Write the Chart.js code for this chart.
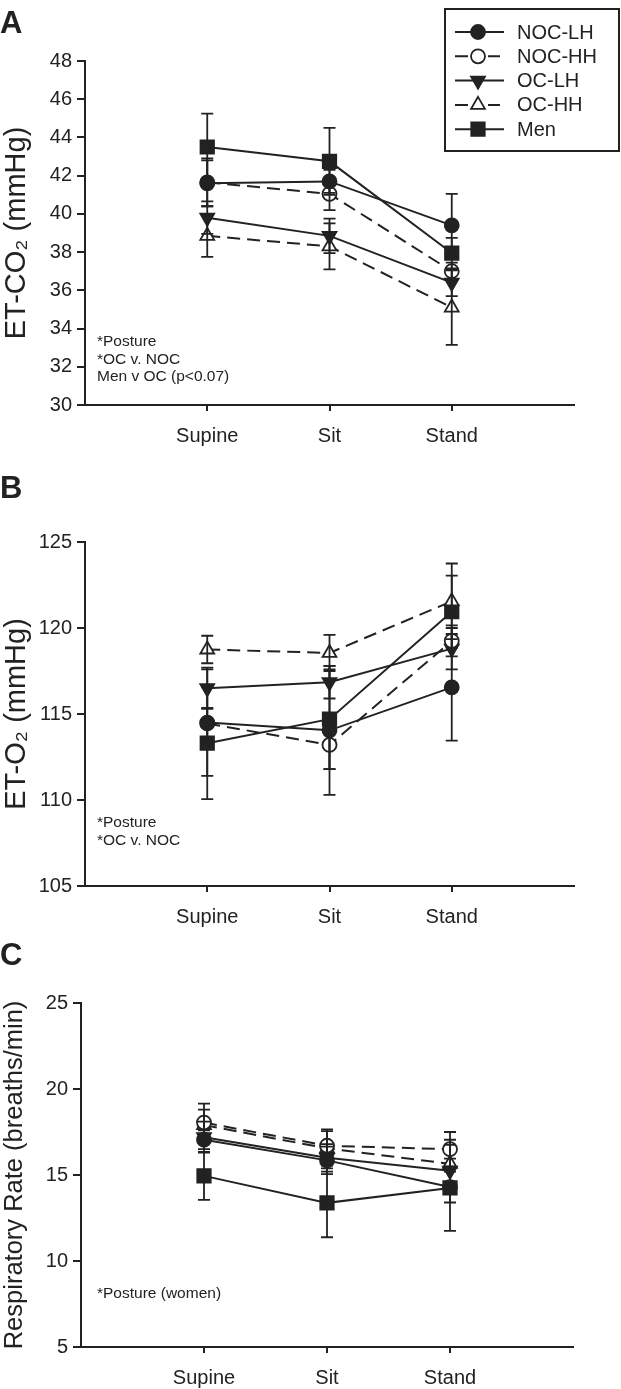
<!DOCTYPE html>
<html><head><meta charset="utf-8">
<script src="https://cdn.jsdelivr.net/npm/chart.js@4.4.1/dist/chart.umd.min.js"></script>
<style>
html,body{margin:0;padding:0;background:#fff;}
body{width:621px;height:1389px;position:relative;overflow:hidden;font-family:"Liberation Sans",Arial,sans-serif;color:#222;}
.panel{position:absolute;left:0;width:621px;}
.letter{position:absolute;left:0;font-weight:bold;font-size:31px;line-height:31px;}
.note{position:absolute;left:97px;font-size:15.5px;line-height:17.5px;white-space:nowrap;}
canvas{display:block;}
</style></head><body>
<div class="panel" style="top:0;height:460px"><canvas id="cA" width="621" height="460"></canvas></div>
<div class="panel" style="top:460px;height:470px"><canvas id="cB" width="621" height="470"></canvas></div>
<div class="panel" style="top:930px;height:459px"><canvas id="cC" width="621" height="459"></canvas></div>
<div class="letter" style="top:7px">A</div>
<div class="letter" style="top:472px">B</div>
<div class="letter" style="top:939px">C</div>
<div class="note" style="top:332px">*Posture<br>*OC v. NOC<br>Men v OC (p&lt;0.07)</div>
<div class="note" style="top:813px">*Posture<br>*OC v. NOC</div>
<div class="note" style="top:1284px">*Posture (women)</div>
<script>
// ---------- data ----------
const postures = ['Supine', 'Sit', 'Stand'];
const groups = ['NOC-LH', 'NOC-HH', 'OC-LH', 'OC-HH', 'Men'];

// Panel A: ET-CO2 (mmHg), rows follow `groups`
const co2Mean = [
  [41.6, 41.7, 39.4],
  [41.65, 41.05, 37.0],
  [39.8, 38.85, 36.4],
  [38.85, 38.3, 35.1],
  [43.5, 42.75, 37.95]
];
const co2Err = [
  [1.2, 0.6, 1.65],
  [1.25, 0.85, 0.45],
  [0.85, 0.9, 0.7],
  [1.1, 1.2, 1.95],
  [1.75, 1.75, 0.8]
];
const co2Ticks = [30, 32, 34, 36, 38, 40, 42, 44, 46, 48];

// Panel B: ET-O2 (mmHg)
const o2Mean = [
  [114.5, 114.05, 116.55],
  [114.45, 113.2, 119.25],
  [116.5, 116.85, 118.8],
  [118.75, 118.55, 121.55],
  [113.3, 114.7, 120.95]
];
const o2Err = [
  [3.1, 3.75, 3.1],
  [0.9, 1.4, 0.9],
  [1.2, 0.95, 1.2],
  [0.8, 1.05, 2.2],
  [3.25, 2.9, 2.1]
];
const o2Ticks = [105, 110, 115, 120, 125];

// Panel C: Respiratory rate (breaths/min)
const rrMean = [
  [17.05, 15.85, 14.3],
  [18.05, 16.7, 16.5],
  [17.2, 16.0, 15.25],
  [17.9, 16.55, 15.65],
  [14.95, 13.38, 14.25]
];
const rrErr = [
  [0.55, 0.8, 0.9],
  [1.1, 0.95, 1.0],
  [0.9, 0.8, 0.7],
  [0.9, 1.0, 1.4],
  [1.4, 2.0, 2.5]
];
const rrTicks = [5, 10, 15, 20, 25];

// ---------- styling ----------
const INK = '#222222';
const FONT = '"Liberation Sans", Arial, Helvetica, sans-serif';
const looks = [
  {style: 'circle',   rot: 0,   r: 7,   fill: INK,    dash: []},
  {style: 'circle',   rot: 0,   r: 7,   fill: '#fff', dash: [13, 7]},
  {style: 'triangle', rot: 180, r: 8,   fill: INK,    dash: []},
  {style: 'triangle', rot: 0,   r: 8,   fill: '#fff', dash: [13, 7]},
  {style: 'rect',     rot: 0,   r: 9.5, fill: INK,    dash: []}
];

function marker(ctx, lk, x, y) {
  ctx.save();
  ctx.fillStyle = lk.fill; ctx.strokeStyle = INK; ctx.lineWidth = 1.8; ctx.setLineDash([]);
  ctx.beginPath();
  if (lk.style === 'circle') {
    ctx.arc(x, y, lk.r, 0, Math.PI * 2);
  } else if (lk.style === 'rect') {
    const s = Math.SQRT1_2 * lk.r; ctx.rect(x - s, y - s, 2 * s, 2 * s);
  } else {
    let a = lk.rot * Math.PI / 180;
    for (let k = 0; k < 3; k++) {
      const px = x + Math.sin(a) * lk.r, py = y - Math.cos(a) * lk.r;
      if (k === 0) ctx.moveTo(px, py); else ctx.lineTo(px, py);
      a += 2 * Math.PI / 3;
    }
    ctx.closePath();
  }
  ctx.fill(); ctx.stroke();
  ctx.restore();
}

const errorBars = {
  id: 'errorBars',
  afterDatasetsDraw(chart) {
    const ctx = chart.ctx, xs = chart.scales.x, ys = chart.scales.y;
    ctx.save();
    ctx.strokeStyle = INK; ctx.lineWidth = 1.8; ctx.setLineDash([]);
    chart.data.datasets.forEach(ds => {
      ds.data.forEach(p => {
        const x = xs.getPixelForValue(p.x);
        const yt = ys.getPixelForValue(p.y + p.e), yb = ys.getPixelForValue(p.y - p.e);
        ctx.beginPath();
        ctx.moveTo(x, yt); ctx.lineTo(x, yb);
        ctx.moveTo(x - 6, yt); ctx.lineTo(x + 6, yt);
        ctx.moveTo(x - 6, yb); ctx.lineTo(x + 6, yb);
        ctx.stroke();
      });
    });
    ctx.restore();
  }
};

const legendBox = {
  id: 'legendBox',
  afterDraw(chart, args, opts) {
    if (!opts || !opts.show) return;
    const ctx = chart.ctx;
    ctx.save();
    ctx.strokeStyle = INK; ctx.lineWidth = 2; ctx.setLineDash([]);
    ctx.strokeRect(445, 9, 174, 142);
    groups.forEach((g, i) => {
      const y = 32 + i * 24.3, lk = looks[i];
      ctx.lineWidth = 2; ctx.strokeStyle = INK;
      ctx.beginPath();
      if (lk.dash.length) { ctx.moveTo(455, y); ctx.lineTo(468, y); ctx.moveTo(488, y); ctx.lineTo(500, y); }
      else { ctx.moveTo(455, y); ctx.lineTo(504, y); }
      ctx.stroke();
      marker(ctx, lk, 478, y);
      ctx.fillStyle = INK; ctx.font = '20px ' + FONT; ctx.textBaseline = 'middle'; ctx.textAlign = 'left';
      ctx.fillText(g, 517, y + 1);
    });
    ctx.restore();
  }
};

function build(id, H, area, means, errs, ticks, title, titleSize, showLegend) {
  const datasets = groups.map((g, i) => ({
    label: g,
    data: postures.map((p, j) => ({x: j + 1, y: means[i][j], e: errs[i][j]})),
    borderColor: INK, borderWidth: 2, borderDash: looks[i].dash,
    pointStyle: looks[i].style, pointRotation: looks[i].rot, pointRadius: looks[i].r,
    pointBackgroundColor: looks[i].fill, pointBorderColor: INK, pointBorderWidth: 1.8,
    tension: 0, fill: false, clip: false
  }));
  return new Chart(document.getElementById(id), {
    type: 'line',
    data: {datasets},
    plugins: [errorBars, legendBox],
    options: {
      responsive: false, animation: false, devicePixelRatio: 1,
      layout: {padding: {top: area.top, right: 621 - area.right, left: 0, bottom: 0}},
      plugins: {legend: {display: false}, tooltip: {enabled: false}, legendBox: {show: showLegend}},
      scales: {
        x: {
          type: 'linear', min: 0, max: postures.length + 1,
          afterBuildTicks: s => { s.ticks = postures.map((p, j) => ({value: j + 1})); },
          afterFit: s => { s.height = H - area.bottom; },
          ticks: {callback: v => postures[v - 1] || '', font: {size: 20, family: FONT}, color: INK, padding: 13, maxRotation: 0, autoSkip: false},
          grid: {drawOnChartArea: false, drawTicks: true, tickLength: 6, color: INK, lineWidth: 2},
          border: {display: true, color: INK, width: 2}
        },
        y: {
          type: 'linear', min: ticks[0], max: ticks[ticks.length - 1],
          afterBuildTicks: s => { s.ticks = ticks.map(v => ({value: v})); },
          afterFit: s => { s.width = area.left; },
          ticks: {font: {size: 20, family: FONT}, color: INK, padding: 5},
          grid: {drawOnChartArea: false, drawTicks: true, tickLength: 8, color: INK, lineWidth: 2},
          border: {display: true, color: INK, width: 2},
          title: {display: true, text: title, font: {size: titleSize, family: FONT}, color: INK, padding: 0}
        }
      }
    }
  });
}

build('cA', 460, {top: 61, bottom: 405, left: 85, right: 574}, co2Mean, co2Err, co2Ticks, 'ET-CO\u2082 (mmHg)', 29, true);
build('cB', 470, {top: 82, bottom: 426, left: 85, right: 574}, o2Mean, o2Err, o2Ticks, 'ET-O\u2082 (mmHg)', 29, false);
build('cC', 459, {top: 73, bottom: 417, left: 81, right: 573}, rrMean, rrErr, rrTicks, 'Respiratory Rate (breaths/min)', 25.5, false);
</script>
</body></html>
